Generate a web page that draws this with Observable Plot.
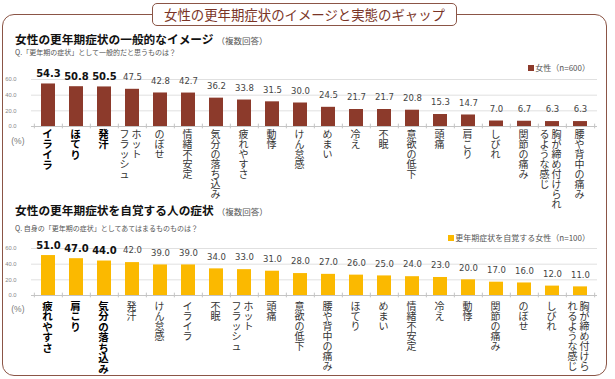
<!DOCTYPE html>
<html><head><meta charset="utf-8">
<script src="https://cdn.jsdelivr.net/npm/d3@7"></script>
<script src="https://cdn.jsdelivr.net/npm/@observablehq/plot@0.6"></script>
<style>
html,body{margin:0;padding:0;background:#fff}
body{width:615px;height:379px;overflow:hidden;position:relative;font-family:"Noto Sans CJK JP",sans-serif}
#frame{position:absolute;left:2px;top:14px;width:605px;height:362px;border:1.5px solid #8b5546;border-radius:12px;box-sizing:border-box}
#title{position:absolute;left:152px;top:3px;width:305px;height:23px;border:1.5px solid #8b5546;border-radius:5px;background:#fff;box-sizing:border-box;color:#7a3426;font-size:13.4px;text-align:center;line-height:20px;white-space:nowrap}
.h{position:absolute;left:15px;font-size:11.7px;font-weight:bold;color:#111;white-space:nowrap;line-height:14px}
.h small{font-size:8.5px;font-weight:normal;color:#555;margin-left:3px}
.q{position:absolute;left:15px;font-size:7px;color:#555;white-space:nowrap;line-height:9px}
.lg{position:absolute;right:25px;font-size:8px;color:#555;white-space:nowrap;line-height:10px}
.lg i{display:inline-block;width:6px;height:6px;margin-right:1px;vertical-align:0px}
.chart{position:absolute;left:0}
</style>
</head><body>
<div id="frame"></div>
<div id="title">女性の更年期症状のイメージと実態のギャップ</div>
<div class="h" style="top:32px">女性の更年期症状の一般的なイメージ<small>（複数回答）</small></div>
<div class="q" style="top:48px">Q.「更年期の症状」として一般的だと思うものは？</div>
<div class="lg" style="top:63px"><i id="sw1"></i>女性（n=600）</div>
<div class="chart" id="c1" style="top:62px"></div>
<div class="h" style="top:203px">女性の更年期症状を自覚する人の症状<small>（複数回答）</small></div>
<div class="q" style="top:224px">Q. 自身の「更年期の症状」としてあてはまるものものは？</div>
<div class="lg" style="top:233px"><i id="sw2"></i>更年期症状を自覚する女性（n=100）</div>
<div class="chart" id="c2" style="top:234px"></div>
<script>
// "/" marks a column break in the vertical label (first part = right column)
const categories1 = ["イライラ","ほてり","発汗","ホット/フラッシュ","のぼせ","情緒不安定","気分の落ち込み","疲れやすさ","動悸","けん怠感","めまい","冷え","不眠","意欲の低下","頭痛","肩こり","しびれ","関節の痛み","胸が締め付けられ/るような感じ","腰や背中の痛み"];
const values1 = [54.3,50.8,50.5,47.5,42.8,42.7,36.2,33.8,31.5,30.0,24.5,21.7,21.7,20.8,15.3,14.7,7.0,6.7,6.3,6.3];
const categories2 = ["疲れやすさ","肩こり","気分の落ち込み","発汗","けん怠感","イライラ","不眠","ホット/フラッシュ","頭痛","意欲の低下","腰や背中の痛み","ほてり","めまい","情緒不安定","冷え","動悸","関節の痛み","のぼせ","しびれ","胸が締め付けら/れるような感じ"];
const values2 = [51.0,47.0,44.0,42.0,39.0,39.0,34.0,33.0,31.0,28.0,27.0,26.0,25.0,24.0,23.0,20.0,17.0,16.0,12.0,11.0];
const yTicks = [0,20,40,60];
const boldCount = 3;
const color1 = "#8c3a2b";
const color2 = "#fbb900";

document.getElementById("sw1").style.background = color1;
document.getElementById("sw2").style.background = color2;

function chart(cats, vals, fill, o) {
  const W = 615, ML = 31, MR = 18;
  const step = (W - ML - MR) / cats.length;
  const data = cats.map((c, i) => ({cat: c, value: vals[i], bold: i < boldCount}));
  const cols = data.flatMap(d => {
    const parts = d.cat.split("/");
    return parts.map((p, j) => ({cat: d.cat, text: [...p].join("\n"), bold: d.bold,
      col: parts.length === 1 ? "single" : (j === 0 ? "right" : "left")}));
  });
  const lab = (col, dx, bold) => Plot.text(cols.filter(c => c.col === col && c.bold === bold), {
    x: "cat", y: () => 0, text: "text", dx, dy: o.labelDy, lineAnchor: "top", lineHeight: 1,
    fontSize: bold ? 10.5 : 10, fontWeight: bold ? "bold" : "normal", fill: bold ? "#000" : "#333",
    fontFamily: "Noto Sans CJK JP", ariaLabel: "catlabel"
  });
  const val = bold => Plot.text(data.filter(d => d.bold === bold), {
    x: "cat", y: "value", text: d => d.value.toFixed(1), dy: bold ? -10 : -12,
    fontSize: bold ? 10 : 8.5, fontWeight: bold ? "bold" : "normal", fill: bold ? "#111" : "#444",
    fontFamily: "DejaVu Sans"
  });
  const p = Plot.plot({
    width: W, height: o.height, marginLeft: ML, marginRight: MR,
    marginTop: o.marginTop, marginBottom: o.marginBottom,
    x: {domain: cats, paddingInner: 0.5, paddingOuter: 0.25, axis: null},
    y: {domain: [0, 60], axis: null},
    marks: [
      Plot.ruleY(yTicks.filter(t => t > 0), {stroke: "#e0e0e0"}),
      Plot.barY(data, {x: "cat", y: "value", fill}),
      Plot.ruleY([0], {stroke: "#c4c4c4"}),
      Plot.ruleX(cats, {x: d => d, dx: -step / 2, y1: -3, y2: 3, stroke: "#c4c4c4"}),
      Plot.ruleX(cats.slice(-1), {x: d => d, dx: step / 2, y1: -3, y2: 3, stroke: "#c4c4c4"}),
      Plot.text(yTicks, {y: d => d, text: d => d.toFixed(1), frameAnchor: "left", dx: -15,
        textAnchor: "end", fontSize: 5.8, fill: "#888", fontFamily: "Liberation Sans"}),
      Plot.text(["(%)"], {y: () => 0, text: d => d, frameAnchor: "left", dx: -7, dy: o.pctDy,
        textAnchor: "end", fontSize: 8.5, fill: "#777", fontFamily: "Liberation Sans"}),
      val(true), val(false),
      lab("single", -1, false), lab("single", -1, true),
      lab("right", 4, false), lab("left", -8, false)
    ]
  });
  d3.select(p).selectAll('g[aria-label="catlabel"]').style("font-feature-settings", '"vert" 1');
  return p;
}

document.getElementById("c1").append(chart(categories1, values1, color1,
  {height: 150, marginTop: 17, marginBottom: 86, labelDy: 4, pctDy: 15}));
document.getElementById("c2").append(chart(categories2, values2, color2,
  {height: 145, marginTop: 14, marginBottom: 84, labelDy: 7, pctDy: 14}));
</script>
</body></html>
